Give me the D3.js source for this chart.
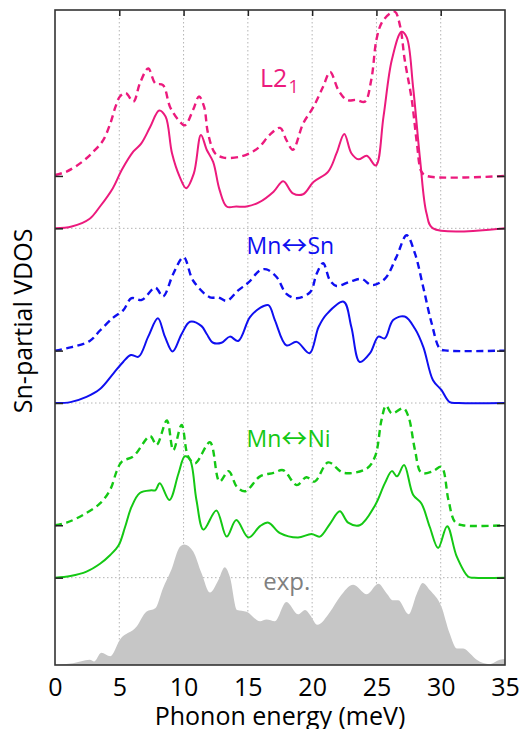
<!DOCTYPE html>
<html>
<head>
<meta charset="utf-8">
<script src="https://cdn.jsdelivr.net/npm/d3@7"></script>
<style>
  body { margin: 0; background: #fff; }
  text { font-family: "Open Sans", sans-serif; }
</style>
</head>
<body>
<script>
// energy (meV), value above each curve's own baseline
const l21Solid = [[0,0],[1.3,0.02],[2.7,0.11],[3.5,0.25],[4.5,0.46],[5.2,0.67],[6.1,0.88],[6.7,0.97],[7.4,1.16],[8.1,1.35],[8.6,1.28],[9.1,0.86],[9.7,0.59],[10.2,0.46],[10.8,0.63],[11.35,1.07],[11.8,0.9],[12.3,0.76],[12.8,0.44],[13.35,0.25],[14.1,0.25],[14.9,0.25],[15.9,0.3],[17,0.42],[17.75,0.54],[18.5,0.4],[19.3,0.39],[20.1,0.53],[21.25,0.65],[21.9,0.86],[22.5,1.08],[23.05,0.86],[23.6,0.79],[24.25,0.83],[24.95,0.72],[25.55,1.28],[26.2,1.93],[26.95,2.25],[27.35,2.19],[27.85,1.62],[28.4,0.78],[28.9,0.17],[29.4,0],[35,0]];
const l21Dashed = [[0,0.01],[0.9,0.05],[2.1,0.16],[3,0.28],[3.75,0.41],[4.3,0.6],[4.7,0.79],[5.05,0.91],[5.5,0.95],[6.1,0.85],[6.6,1.06],[7.25,1.23],[7.8,1.06],[8.4,1.04],[8.95,0.79],[9.6,0.64],[10.1,0.58],[10.75,0.76],[11.2,0.91],[11.6,0.79],[11.9,0.49],[12.45,0.26],[13.1,0.21],[14.4,0.22],[15.4,0.28],[15.95,0.34],[16.7,0.47],[17.5,0.55],[18,0.41],[18.5,0.3],[19.3,0.6],[20.1,0.79],[20.85,1.02],[21.4,1.19],[22.05,0.98],[22.7,0.87],[23.45,0.87],[24.1,0.85],[24.6,1.1],[25,1.56],[25.4,1.75],[26.05,1.86],[26.45,1.88],[26.85,1.71],[27.2,1.33],[27.75,0.87],[28.15,0.37],[28.5,0.05],[28.9,0],[35,0]];
const mnSnSolid = [[0,0],[1.2,0.01],[2.45,0.07],[3.5,0.16],[4.55,0.34],[5.3,0.47],[5.9,0.55],[6.5,0.53],[7.25,0.76],[8,0.97],[8.55,0.76],[9.15,0.59],[9.85,0.79],[10.5,0.93],[11.4,0.88],[11.8,0.79],[12.3,0.69],[12.95,0.69],[13.6,0.76],[14.25,0.71],[15.15,0.98],[15.95,1.09],[16.6,1.12],[17.1,0.95],[18,0.66],[18.8,0.7],[19.8,0.57],[20.5,0.87],[21.15,1.02],[22.45,1.16],[23.05,0.87],[23.7,0.47],[24.5,0.57],[25.15,0.76],[25.65,0.74],[26.3,0.95],[27.2,0.99],[28,0.85],[28.65,0.64],[29.4,0.26],[30.05,0.15],[30.7,0.01],[31.4,0],[35,0]];
const mnSnDashed = [[0,0],[1.3,0.04],[2.7,0.11],[3.5,0.23],[4.55,0.38],[5.3,0.46],[5.95,0.6],[6.75,0.58],[7.8,0.72],[8.4,0.62],[9.2,0.88],[10,1.07],[10.75,0.8],[12.05,0.61],[12.7,0.61],[13.35,0.57],[14.25,0.69],[15.05,0.78],[15.95,0.92],[16.45,0.93],[17.25,0.84],[18,0.65],[18.8,0.6],[19.85,0.67],[20.35,0.88],[20.85,1],[21.4,0.8],[21.9,0.74],[22.95,0.79],[23.85,0.82],[24.65,0.75],[25.65,0.82],[26.55,1.07],[27.35,1.32],[28,1.11],[28.65,0.72],[29.3,0.31],[29.95,0.02],[30.5,0],[35,0]];
const mnNiSolid = [[0,0],[1.2,0.02],[2.45,0.07],[3.5,0.16],[4.3,0.26],[4.95,0.37],[5.45,0.58],[5.95,0.81],[6.6,0.97],[7.5,1],[7.8,1],[8.15,1.08],[8.9,0.89],[9.6,1.19],[10.1,1.39],[10.5,1.35],[11,0.89],[11.55,0.55],[12.55,0.77],[13.35,0.47],[14.1,0.66],[15.05,0.46],[15.95,0.59],[16.6,0.63],[17.5,0.51],[18.9,0.46],[19.95,0.5],[20.6,0.47],[21.4,0.62],[22.15,0.76],[22.8,0.63],[23.7,0.6],[24.9,0.83],[25.65,1.08],[26.2,1.22],[26.6,1.16],[27.15,1.29],[27.85,0.95],[28.5,0.85],[29.15,0.58],[29.8,0.34],[30.5,0.59],[31.25,0.24],[32.15,0.01],[32.6,0],[35,0]];
const mnNiDashed = [[0,0],[0.9,0.03],[2.2,0.12],[3.5,0.25],[4.3,0.41],[4.8,0.62],[5.2,0.73],[6.1,0.79],[7.4,1.02],[7.9,0.92],[8.7,1.2],[9.2,0.86],[9.85,1.15],[10.35,0.79],[10.9,0.71],[12.05,0.95],[12.8,0.5],[13.5,0.62],[14.15,0.44],[14.8,0.39],[15.95,0.56],[17,0.6],[17.75,0.63],[18.8,0.46],[19.55,0.55],[20.2,0.5],[21.25,0.72],[22.45,0.6],[24.25,0.65],[24.9,0.79],[25.4,1.21],[25.75,1.37],[26.2,1.28],[27.1,1.34],[27.5,1.24],[28,0.86],[28.5,0.6],[29.4,0.62],[30.05,0.67],[30.6,0.29],[31.1,0.04],[31.7,0],[35,0]];
const expData = [[0,0],[1.4,0.02],[2.7,0.06],[3.05,0.04],[3.6,0.14],[4.3,0.1],[5.05,0.29],[6.35,0.44],[7.1,0.61],[7.8,0.65],[8.4,0.88],[9.05,1.09],[9.7,1.35],[10.05,1.38],[10.75,1.3],[11.4,1.05],[12.05,0.83],[12.7,0.97],[13.2,1.12],[13.6,1.01],[14.15,0.63],[14.9,0.61],[15.95,0.5],[16.45,0.52],[17.1,0.5],[18,0.72],[18.9,0.58],[19.45,0.63],[19.85,0.57],[20.4,0.46],[21.4,0.61],[22.15,0.78],[23.2,0.92],[24.25,0.81],[25.15,0.93],[25.8,0.82],[26.3,0.74],[26.7,0.74],[27.5,0.58],[28.15,0.82],[28.6,0.94],[29.15,0.86],[30.05,0.67],[30.7,0.36],[31.25,0.19],[31.75,0.19],[32.3,0.13],[32.8,0.06],[33.8,0.01],[34.6,0.06],[35,0.07]];

const xTicks = [0, 5, 10, 15, 20, 25, 30, 35];
const gridLevels = [1, 3, 5];
const sideTicks = [1, 1.6, 3, 3.6, 5, 5.6];

const pink = "#ec1a7d", blue = "#0f0ff0", green = "#14c814";
const series = [
  { data: l21Solid, base: 5, color: pink, dash: null },
  { data: l21Dashed, base: 5.6, color: pink, dash: "7,4.5" },
  { data: mnSnSolid, base: 3, color: blue, dash: null },
  { data: mnSnDashed, base: 3.6, color: blue, dash: "7,4.5" },
  { data: mnNiSolid, base: 1, color: green, dash: null },
  { data: mnNiDashed, base: 1.6, color: green, dash: "7,4.5" }
];

const W = 521, H = 729;
const margin = { top: 10, right: 16, bottom: 64, left: 55 };
const width = W - margin.left - margin.right,
      height = H - margin.top - margin.bottom;

const svg = d3.select("body").append("svg")
  .attr("width", W).attr("height", H);
const g = svg.append("g")
  .attr("transform", "translate(" + margin.left + "," + margin.top + ")");

const x = d3.scaleLinear().domain([0, 35]).range([0, width]);
const y = d3.scaleLinear().domain([0, 7.5]).range([height, 0]);

g.append("clipPath").attr("id", "clip")
  .append("rect").attr("width", width).attr("height", height);

// dotted grid
g.selectAll(".vgrid").data(xTicks.slice(1, -1)).enter().append("line")
  .attr("x1", d => x(d)).attr("x2", d => x(d))
  .attr("y1", 0).attr("y2", height)
  .attr("stroke", "#b4b4b4").attr("stroke-width", 1).attr("stroke-dasharray", "1.5,2.5");
g.selectAll(".hgrid").data(gridLevels).enter().append("line")
  .attr("x1", 0).attr("x2", width)
  .attr("y1", d => y(d)).attr("y2", d => y(d))
  .attr("stroke", "#b4b4b4").attr("stroke-width", 1).attr("stroke-dasharray", "1.5,2.5");

// experimental data, filled
const area = d3.area()
  .x(d => x(d[0])).y0(y(0)).y1(d => y(d[1]))
  .curve(d3.curveMonotoneX);
g.append("path").datum(expData)
  .attr("d", area).attr("fill", "#c6c6c6");

// calculated curves
series.forEach(s => {
  const line = d3.line()
    .x(d => x(d[0])).y(d => y(d[1] + s.base))
    .curve(d3.curveCatmullRom.alpha(0.5));
  g.append("path").datum(s.data)
    .attr("d", line)
    .attr("clip-path", "url(#clip)")
    .attr("fill", "none")
    .attr("stroke", s.color)
    .attr("stroke-width", s.dash ? 2.4 : 2)
    .attr("stroke-dasharray", s.dash);
});

// axes
g.append("g")
  .attr("transform", "translate(0," + height + ")")
  .call(d3.axisBottom(x).tickValues(xTicks).tickSize(0).tickPadding(13))
  .call(a => a.select(".domain").remove())
  .selectAll("text").attr("font-size", 25).attr("fill", "#000")
  .style("font-family", "'Open Sans', sans-serif");
g.append("g")
  .call(d3.axisTop(x).tickValues(xTicks.slice(1, -1)).tickSize(-6).tickFormat(""))
  .call(a => a.select(".domain").remove())
  .selectAll("line").attr("stroke", "#222").attr("stroke-width", 1.5);
g.append("g")
  .call(d3.axisLeft(y).tickValues(sideTicks).tickSize(-8).tickFormat(""))
  .call(a => a.select(".domain").remove())
  .selectAll("line").attr("stroke", "#222").attr("stroke-width", 1.5);
g.append("g")
  .attr("transform", "translate(" + width + ",0)")
  .call(d3.axisRight(y).tickValues(sideTicks).tickSize(-8).tickFormat(""))
  .call(a => a.select(".domain").remove())
  .selectAll("line").attr("stroke", "#222").attr("stroke-width", 1.5);

g.append("rect")
  .attr("width", width).attr("height", height)
  .attr("fill", "none").attr("stroke", "#333").attr("stroke-width", 1.6);

// labels
const l2 = g.append("text")
  .attr("x", x(15.95)).attr("y", y(6.62))
  .attr("fill", pink).attr("font-size", 25);
l2.append("tspan").text("L2");
l2.append("tspan").attr("font-size", 18).attr("dx", 1).attr("dy", 6.6).text("1");

function pairLabel(txt1, txt2, val, color) {
  const t = g.append("text")
    .attr("x", x(14.9)).attr("y", y(val))
    .attr("fill", color).attr("font-size", 23);
  t.append("tspan").text(txt1);
  t.append("tspan").attr("font-family", "'Noto Sans CJK JP', sans-serif")
    .attr("font-size", 26).attr("dy", 1).text("\u2194");
  t.append("tspan").attr("dy", -1).text(txt2);
}
pairLabel("Mn", "Sn", 4.71, blue);
pairLabel("Mn", "Ni", 2.5, green);

g.append("text")
  .attr("x", x(16.2)).attr("y", y(0.86))
  .attr("fill", "#808080").attr("font-size", 24)
  .text("exp.");

g.append("text")
  .attr("x", width / 2).attr("y", height + 60)
  .attr("text-anchor", "middle").attr("font-size", 25)
  .text("Phonon energy (meV)");
g.append("text")
  .attr("transform", "rotate(-90)")
  .attr("x", -(y(3.94))).attr("y", -23)
  .attr("text-anchor", "middle").attr("font-size", 25)
  .text("Sn-partial VDOS");
</script>
</body>
</html>
